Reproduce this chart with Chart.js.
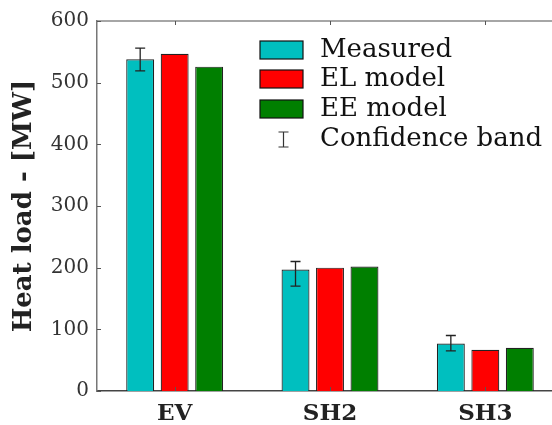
<!DOCTYPE html>
<html>
<head>
<meta charset="utf-8">
<script src="https://cdn.jsdelivr.net/npm/chart.js@4.4.0/dist/chart.umd.min.js"></script>
<style>
  html, body { margin: 0; padding: 0; background: #fff; overflow: hidden; }
  #wrap { width: 566px; height: 425px; }
</style>
</head>
<body>
<div id="wrap"><canvas id="heatChart" width="566" height="425"></canvas></div>
<script>
// Dados
const categorias = ['EV', 'SH2', 'SH3'];
const medido = [538, 197, 77];
const modeloEL = [547, 200, 67];
const modeloEE = [526, 202, 70];
// Banda de confiança (apenas para o medido)
const bandaInf = [519, 170, 65];
const bandaSup = [556, 210, 90];
const yTicks = [0, 100, 200, 300, 400, 500, 600];

const serif = 'DejaVu Serif';

// Plugin para barras de erro, moldura e marcas de escala
const extras = {
    id: 'extras',
    afterDatasetsDraw(chart) {
        const ctx = chart.ctx;
        const y = chart.scales.y;
        const meta = chart.getDatasetMeta(0);
        ctx.save();
        ctx.strokeStyle = '#222';
        ctx.lineWidth = 1.3;
        meta.data.forEach((bar, i) => {
            const yt = y.getPixelForValue(bandaSup[i]);
            const yb = y.getPixelForValue(bandaInf[i]);
            ctx.beginPath();
            ctx.moveTo(bar.x, yt); ctx.lineTo(bar.x, yb);
            ctx.moveTo(bar.x - 5, yt); ctx.lineTo(bar.x + 5, yt);
            ctx.moveTo(bar.x - 5, yb); ctx.lineTo(bar.x + 5, yb);
            ctx.stroke();
        });
        ctx.restore();
    },
    afterDraw(chart) {
        const ctx = chart.ctx;
        const a = chart.chartArea;
        const x = chart.scales.x;
        const y = chart.scales.y;
        ctx.save();
        // linha superior
        ctx.strokeStyle = '#888';
        ctx.lineWidth = 1.5;
        ctx.beginPath();
        ctx.moveTo(a.left, a.top); ctx.lineTo(a.right, a.top);
        ctx.stroke();
        // marcas para dentro
        ctx.strokeStyle = '#555';
        ctx.lineWidth = 1;
        ctx.beginPath();
        yTicks.forEach(v => {
            const py = Math.round(y.getPixelForValue(v)) + 0.5;
            ctx.moveTo(a.left, py); ctx.lineTo(a.left + 4, py);
        });
        categorias.forEach((c, i) => {
            const px = Math.round(x.getPixelForValue(i)) + 0.5;
            ctx.moveTo(px, a.bottom); ctx.lineTo(px, a.bottom - 4);
            ctx.moveTo(px, a.top); ctx.lineTo(px, a.top + 4);
        });
        ctx.stroke();

        // legenda
        const lx = 260, lw = 43, lh = 18, tx = 320;
        const linhas = [50, 79, 109, 139];
        ctx.font = '26px "' + serif + '"';
        ctx.textBaseline = 'middle';
        ctx.textAlign = 'left';
        chart.data.datasets.forEach((ds, i) => {
            const cy = linhas[i];
            ctx.fillStyle = ds.backgroundColor;
            ctx.fillRect(lx, cy - lh / 2, lw, lh);
            ctx.strokeStyle = '#111';
            ctx.lineWidth = 1.2;
            ctx.strokeRect(lx, cy - lh / 2, lw, lh);
            ctx.fillStyle = '#111';
            ctx.fillText(ds.label, tx, cy);
        });
        // entrada da banda de confiança
        const cy = linhas[3];
        const cx = 283.5;
        ctx.strokeStyle = '#333';
        ctx.lineWidth = 1.2;
        ctx.beginPath();
        ctx.moveTo(cx, cy - 7); ctx.lineTo(cx, cy + 8);
        ctx.moveTo(cx - 5, cy - 7); ctx.lineTo(cx + 5, cy - 7);
        ctx.moveTo(cx - 5, cy + 8); ctx.lineTo(cx + 5, cy + 8);
        ctx.stroke();
        ctx.fillStyle = '#111';
        ctx.fillText('Confidence band', tx, cy);
        ctx.restore();
    }
};

const barOpts = { borderColor: '#222', borderWidth: 1.2, categoryPercentage: 0.666, barPercentage: 0.81 };

const ctx = document.getElementById('heatChart').getContext('2d');
const chart = new Chart(ctx, {
    type: 'bar',
    data: {
        labels: categorias,
        datasets: [
            { label: 'Measured', data: medido, backgroundColor: '#00BFBF', ...barOpts },
            { label: 'EL model', data: modeloEL, backgroundColor: '#FF0000', ...barOpts },
            { label: 'EE model', data: modeloEE, backgroundColor: '#007F00', ...barOpts }
        ]
    },
    options: {
        responsive: false,
        animation: false,
        layout: { padding: { top: 21, right: 3, left: 0, bottom: 0 } },
        plugins: {
            legend: { display: false },
            tooltip: { enabled: false }
        },
        scales: {
            x: {
                grid: { display: false, drawTicks: false },
                border: { display: true, color: '#444', width: 1.5 },
                ticks: {
                    color: '#222',
                    padding: 9,
                    font: { family: serif, size: 23, weight: 'bold' }
                },
                afterFit(s) { s.height = 34; }
            },
            y: {
                min: 0,
                max: 600,
                grid: { display: false, drawTicks: false },
                border: { display: true, color: '#777', width: 1.5 },
                ticks: {
                    stepSize: 100,
                    color: '#333',
                    padding: 8,
                    font: { family: serif, size: 20 }
                },
                title: {
                    display: true,
                    text: 'Heat load - [MW]',
                    color: '#222',
                    padding: { top: 9, bottom: 0 },
                    font: { family: serif, size: 26, weight: 'bold' }
                },
                afterFit(s) { s.width = 97; }
            }
        }
    },
    plugins: [extras]
});
</script>
</body>
</html>
